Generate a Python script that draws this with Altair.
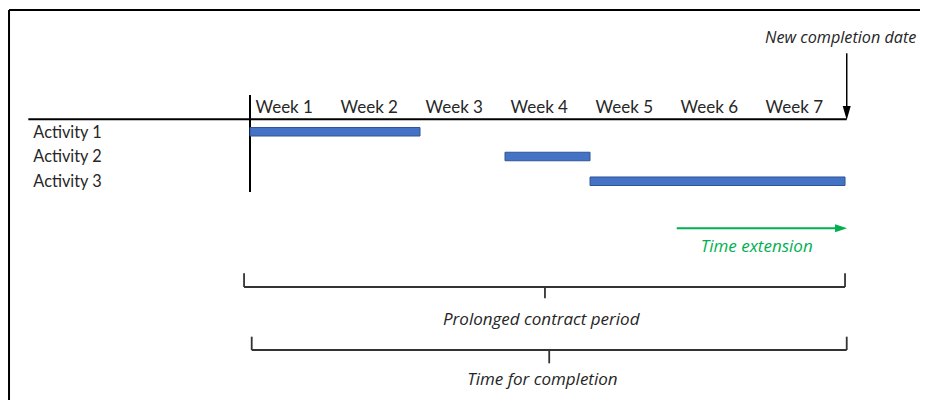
import altair as alt
import pandas as pd

# ---- data ----
weeks = ["Week 1", "Week 2", "Week 3", "Week 4", "Week 5", "Week 6", "Week 7"]
activities = ["Activity 1", "Activity 2", "Activity 3"]
act_start = [0, 3, 4]      # week index where each activity starts
act_end = [2, 4, 7]        # week index where each activity ends
act_row = [1, 2, 3]

new_completion = 7.02      # new completion date (weeks)
extension_start = 5.02     # start of the time extension (weeks)

FONT = "Lato"
IFONT = "Open Sans"
TXT = "#262626"
GREEN = "#00B050"
BRACE = "#333333"

W, H = 912, 392
X_DOM = [-2.847, 7.882]
Y_DOM = [-4.0, 11.838]
xs = alt.Scale(domain=X_DOM, nice=False, zero=False)
ys = alt.Scale(domain=Y_DOM, nice=False, zero=False, reverse=True)


def X(f="x"):
    return alt.X(f"{f}:Q", scale=xs, axis=None)


def Y(f="y"):
    return alt.Y(f"{f}:Q", scale=ys, axis=None)


# ---- bars ----
bars_df = pd.DataFrame({"activity": activities, "start": act_start,
                        "end": act_end, "row": act_row})
bars = alt.Chart(bars_df).transform_calculate(
    top="datum.row - 0.172", bottom="datum.row + 0.172"
).mark_rect(fill="#4472C4", stroke="#2F5597", strokeWidth=1).encode(
    x=X("start"), x2="end", y=Y("top"), y2="bottom"
)

# ---- straight lines (grid, braces, arrows, frame) ----
rx, rx2, ry, ry2, rc, rw = [], [], [], [], [], []


def rule(x, x2, y, y2, c, w):
    rx.append(x); rx2.append(x2); ry.append(y); ry2.append(y2); rc.append(c); rw.append(w)


# frame (top and left)
rule(-2.835, X_DOM[1], -3.919, -3.919, "black", 2)
rule(-2.835, -2.835, -3.919, Y_DOM[1], "black", 2)
# header line and first-week line
rule(-2.608, new_completion, 0.497, 0.497, "black", 2)
rule(0.0, 0.0, -0.485, 3.434, "black", 2)
# black arrow shaft
rule(new_completion, new_completion, -2.17, 0.10, "black", 1.5)
# green arrow shaft
rule(extension_start, 6.93, 4.901, 4.901, GREEN, 2)
# brace 1 (prolonged contract period)
rule(-0.07, 7.0, 7.273, 7.273, BRACE, 1.8)
rule(-0.07, -0.07, 6.72, 7.273, BRACE, 1.8)
rule(7.0, 7.0, 6.72, 7.273, BRACE, 1.8)
rule(3.47, 3.47, 7.273, 7.73, BRACE, 1.8)
# brace 2 (time for completion)
rule(0.02, 7.02, 9.818, 9.818, BRACE, 1.8)
rule(0.02, 0.02, 9.28, 9.818, BRACE, 1.8)
rule(7.02, 7.02, 9.28, 9.818, BRACE, 1.8)
rule(3.52, 3.52, 9.818, 10.356, BRACE, 1.8)

rules_df = pd.DataFrame({"x": rx, "x2": rx2, "y": ry, "y2": ry2, "c": rc, "w": rw})
rules = alt.Chart(rules_df).mark_rule().encode(
    x=X(), x2="x2", y=Y(), y2="y2",
    color=alt.Color("c:N", scale=None),
    strokeWidth=alt.StrokeWidth("w:Q", scale=None),
)

# ---- arrowheads ----
down_df = pd.DataFrame({"x": [new_completion], "y": [0.242]})
right_df = pd.DataFrame({"x": [6.953], "y": [4.901]})
head_down = alt.Chart(down_df).mark_point(
    shape="M-0.571,-1L0.571,-1L0,1Z", size=196, filled=True, opacity=1, color="black"
).encode(x=X(), y=Y())
head_right = alt.Chart(right_df).mark_point(
    shape="M-1,-0.667L1,0L-1,0.667Z", size=144, filled=True, opacity=1, color=GREEN
).encode(x=X(), y=Y())

# ---- texts ----
week_df = pd.DataFrame({"label": weeks, "x": [i + 0.065 for i in range(len(weeks))],
                        "y": [0.24] * len(weeks)})
week_txt = alt.Chart(week_df).mark_text(
    align="left", baseline="alphabetic", font=FONT, fontSize=17, color=TXT
).encode(x=X(), y=Y(), text="label:N")

act_df = pd.DataFrame({"label": activities, "x": [-2.549] * 3,
                       "y": [r + 0.24 for r in act_row]})
act_txt = alt.Chart(act_df).mark_text(
    align="left", baseline="alphabetic", font=FONT, fontSize=16.3, color=TXT
).encode(x=X(), y=Y(), text="label:N")

ncd_df = pd.DataFrame({"label": ["New completion date"], "x": [6.06], "y": [-2.574]})
ncd_txt = alt.Chart(ncd_df).mark_text(
    align="left", baseline="alphabetic", font=IFONT, fontSize=16.2, fontStyle="italic", color=TXT
).encode(x=X(), y=Y(), text="label:N")

ext_df = pd.DataFrame({"label": ["Time extension"], "x": [5.961], "y": [5.846]})
ext_txt = alt.Chart(ext_df).mark_text(
    align="center", baseline="alphabetic", font=IFONT, fontSize=17, fontStyle="italic", color=GREEN
).encode(x=X(), y=Y(), text="label:N")

brace_df = pd.DataFrame({"label": ["Prolonged contract period", "Time for completion"],
                         "x": [3.426, 3.44], "y": [8.808, 11.232]})
brace_txt = alt.Chart(brace_df).mark_text(
    align="center", baseline="alphabetic", font=IFONT, fontSize=17, fontStyle="italic", color=TXT
).encode(x=X(), y=Y(), text="label:N")

chart = alt.layer(
    rules, bars, head_down, head_right, week_txt, act_txt, ncd_txt, ext_txt, brace_txt
).properties(
    width=W, height=H, padding=0, background="white",
    autosize=alt.AutoSizeParams(type="none"),
).configure_view(stroke=None)

chart.save("out.html", embed_options={"renderer": "svg", "actions": False})
